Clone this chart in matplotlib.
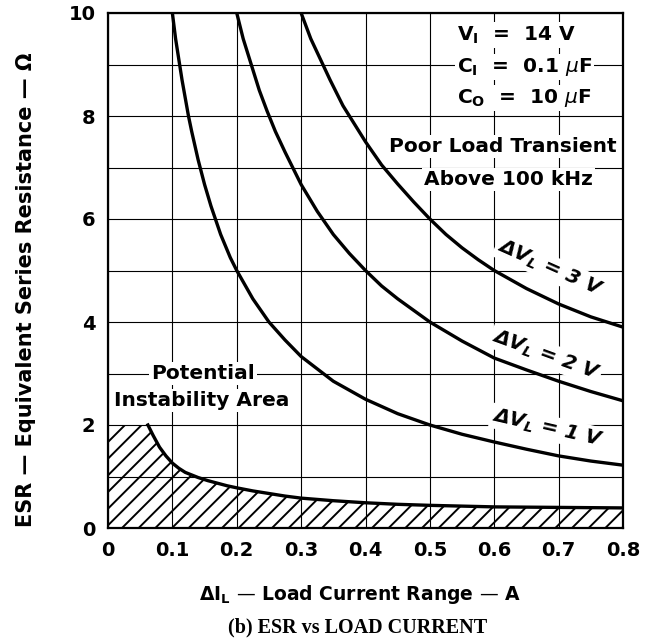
import matplotlib
matplotlib.use("Agg")
import matplotlib.pyplot as plt

plt.rcParams["font.family"] = ["DejaVu Sans"]
plt.rcParams["hatch.linewidth"] = 1.4

# values (load current range in A, ESR in ohm)
i_1v = [0.1, 0.105, 0.11, 0.115, 0.125, 0.13, 0.14, 0.15, 0.16, 0.175, 0.19, 0.2, 0.225,
        0.25, 0.275, 0.3, 0.35, 0.4, 0.45, 0.5, 0.55, 0.6, 0.65, 0.7, 0.75, 0.8]
esr_1v = [10, 9.5, 9.1, 8.7, 8.0, 7.7, 7.15, 6.67, 6.25, 5.7, 5.25, 5.0, 4.45,
          4.0, 3.65, 3.33, 2.85, 2.5, 2.22, 2.0, 1.82, 1.67, 1.53, 1.4, 1.3, 1.22]

i_2v = [0.2, 0.21, 0.22, 0.235, 0.247, 0.26, 0.275, 0.3, 0.325, 0.35, 0.375, 0.4,
        0.425, 0.45, 0.5, 0.55, 0.6, 0.65, 0.7, 0.75, 0.8]
esr_2v = [10, 9.5, 9.1, 8.5, 8.1, 7.7, 7.3, 6.67, 6.15, 5.7, 5.33, 5.0,
          4.7, 4.45, 4.0, 3.63, 3.3, 3.07, 2.85, 2.65, 2.47]

i_3v = [0.3, 0.315, 0.33, 0.345, 0.365, 0.38, 0.4, 0.425, 0.45, 0.475, 0.5, 0.525,
        0.55, 0.575, 0.6, 0.65, 0.7, 0.75, 0.8]
esr_3v = [10, 9.5, 9.1, 8.7, 8.2, 7.9, 7.5, 7.05, 6.68, 6.33, 6.0, 5.7,
          5.44, 5.21, 5.0, 4.65, 4.35, 4.1, 3.9]

# lower boundary of the potential instability area
i_min = [0.062, 0.07, 0.08, 0.09, 0.1, 0.11, 0.12, 0.13, 0.14, 0.155, 0.17, 0.185, 0.2,
         0.225, 0.25, 0.275, 0.3, 0.35, 0.4, 0.45, 0.5, 0.6, 0.7, 0.8]
esr_min = [2.0, 1.8, 1.57, 1.4, 1.26, 1.16, 1.08, 1.03, 0.98, 0.92, 0.87, 0.82, 0.78,
           0.72, 0.67, 0.62, 0.58, 0.53, 0.49, 0.46, 0.44, 0.41, 0.40, 0.39]
esr_cap = 2.0

curve_labels = ["ΔV$_\\mathregular{L}$ = 3 V", "ΔV$_\\mathregular{L}$ = 2 V", "ΔV$_\\mathregular{L}$ = 1 V"]
x_ticks = [0, 0.1, 0.2, 0.3, 0.4, 0.5, 0.6, 0.7, 0.8]
x_ticklabels = ["0", "0.1", "0.2", "0.3", "0.4", "0.5", "0.6", "0.7", "0.8"]
y_ticks = [0, 2, 4, 6, 8, 10]

fig = plt.figure(figsize=(6.45, 6.39), dpi=100)
ax = fig.add_axes([108 / 645, 1 - 528 / 639, 515 / 645, 515 / 639])

ax.set_xlim(0, 0.8)
ax.set_ylim(0, 10)
ax.set_yticks(range(11), minor=True)
ax.set_xticks(x_ticks)
ax.set_xticklabels(x_ticklabels)
ax.set_yticks(y_ticks)
ax.set_yticklabels([str(v) for v in y_ticks])
ax.tick_params(which="both", length=0)
ax.tick_params(axis="x", pad=9, labelsize=14)
ax.tick_params(axis="y", pad=9, labelsize=14)
for lab in ax.get_xticklabels() + ax.get_yticklabels():
    lab.set_fontweight("bold")
ax.grid(True, which="both", color="black", linewidth=0.8, zorder=1)
ax.set_axisbelow(True)
for sp in ax.spines.values():
    sp.set_linewidth(1.6)

# hatched instability area
fill_x = [0] + i_min
fill_y = [esr_cap] + esr_min
ax.fill_between(fill_x, 0, fill_y, facecolor="none", edgecolor="black",
                hatch="//", linewidth=0, zorder=2)
ax.plot(i_min, esr_min, color="black", linewidth=2.4, zorder=4,
        solid_joinstyle="round")

for xs, ys in [(i_1v, esr_1v), (i_2v, esr_2v), (i_3v, esr_3v)]:
    ax.plot(xs, ys, color="black", linewidth=2.4, zorder=4, solid_joinstyle="round")

box = dict(facecolor="white", edgecolor="none", pad=1.5)
txt = dict(fontsize=14.5, fontweight="bold", zorder=3, bbox=box)

ax.text(0.542, 9.57, "V$_\\mathregular{I}$  =  14 V", ha="left", va="center", **txt)
ax.text(0.542, 8.95, "C$_\\mathregular{I}$  =  0.1 $\\mu$F", ha="left", va="center", **txt)
ax.text(0.542, 8.35, "C$_\\mathregular{O}$  =  10 $\\mu$F", ha="left", va="center", **txt)
ax.text(0.613, 7.4, "Poor Load Transient", ha="center", va="center", **txt)
ax.text(0.622, 6.76, "Above 100 kHz", ha="center", va="center", **txt)
ax.text(0.147, 3.0, "Potential", ha="center", va="center", **txt)
ax.text(0.145, 2.48, "Instability Area", ha="center", va="center", **txt)

label_pos = [(0.686, 5.05, -24), (0.68, 3.36, -20), (0.683, 1.94, -13)]
for text, (x, y, rot) in zip(curve_labels, label_pos):
    ax.text(x, y, text, ha="center", va="center", rotation=rot,
            rotation_mode="anchor", fontsize=14.5, fontweight="bold",
            style="italic", zorder=3, bbox=box)

fig.text(26 / 645, 1 - 290 / 639, "ESR \u2014 Equivalent Series Resistance \u2014 \u03a9",
         rotation=90, ha="center", va="center", fontsize=15, fontweight="bold")
fig.text(360 / 645, 1 - 594 / 639, "ΔI$_\\mathregular{L}$ \u2014 Load Current Range \u2014 A",
         ha="center", va="center", fontsize=13.5, fontweight="bold")
fig.text(358 / 645, 1 - 627 / 639, "(b) ESR vs LOAD CURRENT", ha="center", va="center",
         fontsize=14.5, fontweight="bold", family="Liberation Serif")

fig.savefig("out.png", dpi=100)
